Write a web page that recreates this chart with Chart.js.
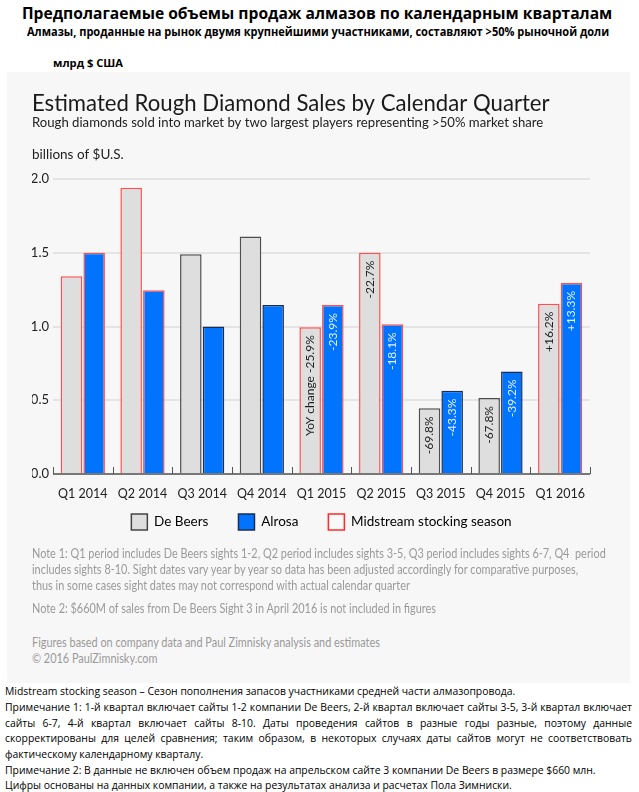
<!DOCTYPE html>
<html><head><meta charset="utf-8">
<script src="https://cdn.jsdelivr.net/npm/chart.js@4.4.1/dist/chart.umd.min.js"></script>
<style>
html,body{margin:0;padding:0;background:#fff;}
body{width:639px;height:792px;position:relative;overflow:hidden;}
.ln{position:absolute;white-space:nowrap;transform-origin:0 50%;line-height:1.25;}
.ru{font-family:"Open Sans","Noto Sans",sans-serif;color:#000;}
#panel{position:absolute;left:7px;top:72px;width:623px;height:611px;background:#f7f7f7;}
#chartBox{position:absolute;left:0;top:0;width:623px;height:497px;}
.note{font-family:Lato,"Open Sans",sans-serif;color:#9a9a9a;font-size:12.5px;}
.btm{font-family:"Open Sans","Noto Sans",sans-serif;color:#000;font-size:11px;}
</style></head>
<body>
<div class="ln ru" data-x="22" data-y="13.5" data-w="590" style="font-weight:700;font-size:16.5px">Предполагаемые объемы продаж алмазов по календарным кварталам</div>
<div class="ln ru" data-x="27" data-y="32" data-w="582" style="font-weight:700;font-size:11.5px">Алмазы, проданные на рынок двумя крупнейшими участниками, составляют &gt;50% рыночной доли</div>
<div class="ln ru" data-x="53" data-y="63" data-w="70" style="font-weight:700;font-size:10.5px">млрд $ США</div>

<div id="panel">
  <div id="chartBox"><canvas id="c" width="623" height="497"></canvas></div>
  <div class="ln note ng" data-x="25" data-y="482" data-ref="1">Note 1: Q1 period includes De Beers sights 1-2, Q2 period includes sights 3-5, Q3 period includes sights 6-7, Q4&nbsp; period</div>
  <div class="ln note ng" data-x="25" data-y="498">includes sights 8-10. Sight dates vary year by year so data has been adjusted accordingly for comparative purposes,</div>
  <div class="ln note ng" data-x="25" data-y="514">thus in some cases sight dates may not correspond with actual calendar quarter</div>
  <div class="ln note ng" data-x="25" data-y="537">Note 2: $660M of sales from De Beers Sight 3 in April 2016 is not included in figures</div>
  <div class="ln note ng" data-x="25" data-y="571">Figures based on company data and Paul Zimnisky analysis and estimates</div>
  <div class="ln note ng" data-x="25" data-y="587">© 2016 PaulZimnisky.com</div>
</div>

<div class="ln btm bg" data-x="5" data-y="691">Midstream stocking season – Сезон пополнения запасов участниками средней части алмазопровода.</div>
<div class="ln btm bg" data-x="5" data-y="707" data-j="1">Примечание 1: 1-й квартал включает сайты 1-2 компании De Beers, 2-й квартал включает сайты 3-5, 3-й квартал включает</div>
<div class="ln btm bg" data-x="5" data-y="722.5" data-j="1">сайты 6-7, 4-й квартал включает сайты 8-10. Даты проведения сайтов в разные годы разные, поэтому данные</div>
<div class="ln btm bg" data-x="5" data-y="738" data-j="1">скорректированы для целей сравнения; таким образом, в некоторых случаях даты сайтов могут не соответствовать</div>
<div class="ln btm bg" data-x="5" data-y="754">фактическому календарному кварталу.</div>
<div class="ln btm bg" data-x="5" data-y="769.5" data-ref="1">Примечание 2: В данные не включен объем продаж на апрельском сайте 3 компании De Beers в размере $660 млн.</div>
<div class="ln btm bg" data-x="5" data-y="785">Цифры основаны на данных компании, а также на результатах анализа и расчетах Пола Зимниски.</div>

<script>
// ---------- data ----------
const categories = ['Q1 2014','Q2 2014','Q3 2014','Q4 2014','Q1 2015','Q2 2015','Q3 2015','Q4 2015','Q1 2016'];
const deBeers = [1.34, 1.94, 1.49, 1.61, 0.995, 1.50, 0.445, 0.515, 1.155];
const alrosa  = [1.50, 1.245, 1.00, 1.145, 1.145, 1.015, 0.565, 0.695, 1.295];
const deBeersChange = ['', '', '', '', 'YoY change -25.9%', '-22.7%', '-69.8%', '-67.8%', '+16.2%'];
const alrosaChange  = ['', '', '', '', '-23.9%', '-18.1%', '-43.3%', '-39.2%', '+13.3%'];
const midstreamSeason = [true, true, false, false, true, true, false, false, true];
const yTickValues = [0, 0.5, 1.0, 1.5, 2.0];
const seriesNames = ['De Beers', 'Alrosa', 'Midstream stocking season'];
const chartTitle = 'Estimated Rough Diamond Sales by Calendar Quarter';
const chartSubtitle = 'Rough diamonds sold into market by two largest players representing >50% market share';
const axisLabel = 'billions of $U.S.';

// ---------- text layout helpers ----------
function place(el, scale) {
  const x = parseFloat(el.dataset.x), yc = parseFloat(el.dataset.y);
  el.style.left = x + 'px';
  el.style.top = (yc - el.offsetHeight / 2) + 'px';
  if (scale) el.style.transform = 'scaleX(' + scale + ')';
}
document.querySelectorAll('.ru').forEach(el => {
  const w = parseFloat(el.dataset.w);
  place(el, w / el.offsetWidth);
});
(function(){
  const notes = [...document.querySelectorAll('.ng')];
  const ref = notes.find(n => n.dataset.ref);
  const s = 574 / ref.offsetWidth;
  notes.forEach(n => place(n, s));
  const lines = [...document.querySelectorAll('.bg')];
  const r2 = lines.find(n => n.dataset.ref);
  const s2 = 591 / r2.offsetWidth;
  lines.forEach(n => {
    if (n.dataset.j) {
      const nat = n.offsetWidth;
      if (nat * s2 <= 627) {
        n.style.whiteSpace = 'normal';
        n.style.width = (627 / s2) + 'px';
        n.style.textAlign = 'justify';
        n.style.textAlignLast = 'justify';
        place(n, s2);
      } else {
        place(n, 627 / nat);
      }
    } else place(n, s2);
  });
})();

function fitSize(text, weight, family, target) {
  const c = document.createElement('canvas').getContext('2d');
  c.font = weight + ' 100px ' + family;
  return 100 * target / c.measureText(text).width;
}
const titleSize = fitSize(chartTitle, 400, 'Lato', 518);
const subSize = fitSize(chartSubtitle, 400, 'Lato', 512);

const RED = '#ff4f4f';
const extras = {
  id: 'extras',
  beforeDraw(chart) {
    // move the legend row up to sit just under the category labels
    const lg = chart.legend;
    if (!lg) return;
    const want = chart.chartArea.bottom + 48;
    const cur = lg.top + 30 + 8;
    const d = cur - want;
    lg.top -= d; lg.bottom -= d;
  },
  afterDatasetsDraw(chart) {
    const {ctx, chartArea, scales: {x, y}} = chart;
    ctx.save();
    const y0 = y.getPixelForValue(0);
    ctx.strokeStyle = '#555';
    ctx.lineWidth = 1.5;
    ctx.beginPath(); ctx.moveTo(chartArea.left, y0); ctx.lineTo(chartArea.right, y0); ctx.stroke();
    ctx.lineWidth = 1;
    for (let i = 0; i <= categories.length; i++) {
      const px = Math.round(x.getPixelForValue(i - 0.5)) + 0.5;
      ctx.beginPath(); ctx.moveTo(px, y0); ctx.lineTo(px, y0 - 7); ctx.stroke();
    }
    [deBeersChange, alrosaChange].forEach((labels, di) => {
      const meta = chart.getDatasetMeta(di);
      meta.data.forEach((bar, i) => {
        const t = labels[i];
        if (!t) return;
        ctx.save();
        ctx.translate(bar.x, bar.y + 8);
        ctx.rotate(-Math.PI / 2);
        ctx.textAlign = 'right';
        ctx.textBaseline = 'middle';
        ctx.fillStyle = di === 0 ? '#1e1e1e' : '#e3f0ff';
        ctx.font = '12px Lato';
        ctx.fillText(t, 0, 0);
        ctx.restore();
      });
    });
    ctx.fillStyle = '#222';
    ctx.font = '13.5px Lato';
    ctx.textAlign = 'left';
    ctx.textBaseline = 'middle';
    ctx.fillText(axisLabel, 25, chartArea.top - 24);
    ctx.restore();
  }
};

const legendFill = ['#dedede', '#0074ff', '#f9f9f9'];
const legendStroke = ['#444', '#1e2d4f', '#ff2a2a'];

new Chart(document.getElementById('c'), {
  type: 'bar',
  data: {
    labels: categories,
    datasets: [
      { label: seriesNames[0], data: deBeers, backgroundColor: '#dedede',
        borderColor: midstreamSeason.map(m => m ? RED : '#4d4d4d'), borderWidth: 1.5,
        categoryPercentage: 0.76, barPercentage: 0.95 },
      { label: seriesNames[1], data: alrosa, backgroundColor: '#0074ff',
        borderColor: midstreamSeason.map(m => m ? RED : '#1e2d4f'), borderWidth: 1.5,
        categoryPercentage: 0.76, barPercentage: 0.95 }
    ]
  },
  options: {
    responsive: false, animation: false, devicePixelRatio: 1,
    layout: { padding: { left: 25, right: 40, top: 0, bottom: 0 } },
    plugins: {
      tooltip: { enabled: false },
      title: { display: true, text: chartTitle, align: 'start', color: '#1a1a1a',
        font: { family: 'Lato', size: titleSize, weight: 400, lineHeight: 1 },
        padding: { top: 31.5 - titleSize / 2, bottom: 44 - (31.5 - titleSize / 2) - titleSize } },
      subtitle: { display: true, text: chartSubtitle, align: 'start', color: '#222',
        font: { family: 'Lato', size: subSize, weight: 400, lineHeight: 1 },
        padding: { top: 7 - subSize / 2, bottom: 63 - (7 - subSize / 2) - subSize } },
      legend: { position: 'bottom', fullSize: false,
        labels: { boxWidth: 16, boxHeight: 16, padding: 30, color: '#222',
          font: { family: 'Lato', size: 13.5 },
          generateLabels: () => seriesNames.map((n, i) => ({ text: n, fillStyle: legendFill[i],
            strokeStyle: legendStroke[i], lineWidth: 1.5, hidden: false, datasetIndex: i })) } }
    },
    scales: {
      x: { grid: { display: false, drawTicks: false }, border: { display: false },
        ticks: { color: '#222', font: { family: 'Lato', size: 12.5 }, padding: 12, maxRotation: 0, autoSkip: false } },
      y: { min: 0, max: 2,
        afterBuildTicks: s => { s.ticks = yTickValues.map(v => ({ value: v })); },
        ticks: { color: '#222', font: { family: 'Lato', size: 13 }, padding: 4, callback: v => Number(v).toFixed(1) },
        grid: { color: '#e4e4e4', lineWidth: 2, drawTicks: false },
        border: { display: false },
        afterFit: s => { s.width = 21; } }
    }
  },
  plugins: [extras]
});
</script>
</body></html>
